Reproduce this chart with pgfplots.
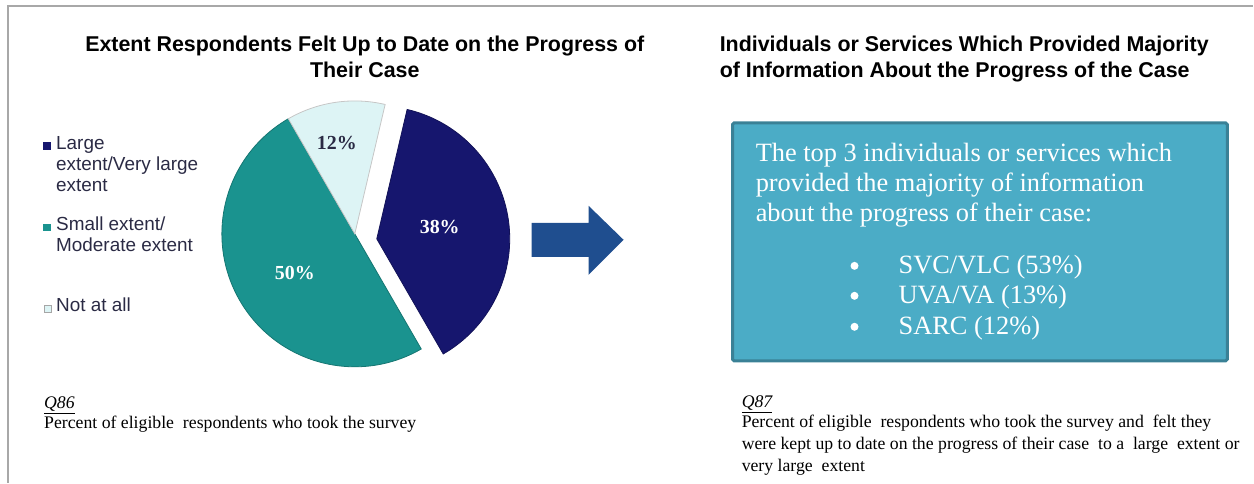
\documentclass[border=0pt]{standalone}
\usepackage{pgfplots}
\usepackage{pgfplotstable}
\pgfplotsset{compat=1.18}
\usepackage{fontspec}
\setmainfont{Liberation Serif}
\newfontfamily\arial{Liberation Sans}

\definecolor{pienavy}{HTML}{16166E}
\definecolor{pieteal}{HTML}{1A938F}
\definecolor{pielight}{HTML}{DDF4F5}
\definecolor{legtext}{HTML}{2A2A44}
\definecolor{arrowblue}{HTML}{1F4E8F}
\definecolor{boxfill}{HTML}{4BACC6}
\definecolor{boxedge}{HTML}{3A8196}
\definecolor{frame}{HTML}{A8A8A8}

% share of respondents (%), clockwise from the first slice
\pgfplotstableread{
slice value
large 38
small 50
none  12
}\piedata

\pgfplotstablegetelem{0}{value}\of\piedata\edef\vA{\pgfplotsretval}
\pgfplotstablegetelem{1}{value}\of\piedata\edef\vB{\pgfplotsretval}
\pgfplotstablegetelem{2}{value}\of\piedata\edef\vC{\pgfplotsretval}
\pgfmathsetmacro{\aA}{76.8}
\pgfmathsetmacro{\aB}{\aA-3.6*\vA}
\pgfmathsetmacro{\aC}{\aB-3.6*\vB}
\pgfmathsetmacro{\aD}{\aC-3.6*\vC}

\tikzset{
  ttl/.style={font=\arial\bfseries\fontsize{21.5}{26}\selectfont, inner sep=0pt},
  leg/.style={anchor=base west, font=\arial\fontsize{19}{21}\selectfont, text=legtext, inner sep=0pt},
  box/.style={anchor=base west, font=\fontsize{26.5}{30}\selectfont, text=white, inner sep=0pt},
  foot/.style={anchor=base west, font=\fontsize{17.8}{22}\selectfont, inner sep=0pt},
  pct/.style={font=\bfseries\fontsize{20}{22}\selectfont, inner sep=0pt},
}

\begin{document}
\begin{tikzpicture}
\begin{axis}[
  width=1254bp, height=483bp, scale only axis,
  xmin=0, xmax=1254, ymin=0, ymax=483, y dir=reverse,
  hide axis, clip=false]

\path (axis cs:0,0) rectangle (axis cs:1254,483);
% frame
\draw[frame, line width=1.5bp] (axis cs:8,483) -- (axis cs:8,6) -- (axis cs:1254,6);

% titles
\node[ttl, anchor=base] at (axis cs:365,52) {Extent Respondents Felt Up to Date on the Progress of};
\node[ttl, anchor=base] at (axis cs:365,78) {Their Case};
\node[ttl, anchor=base west] at (axis cs:720,52) {Individuals or Services Which Provided Majority};
\node[ttl, anchor=base west] at (axis cs:720,78) {of Information About the Progress of the Case};

% pie
\fill[pieteal, draw=pieteal!80!black, line width=0.8bp] (axis cs:355,234) -- ++(\aB:133bp)
  arc[start angle=\aB, end angle=\aC, radius=133bp] -- cycle;
\fill[pielight, draw=gray!45, line width=0.8bp] (axis cs:355,234) -- ++(\aC:133bp)
  arc[start angle=\aC, end angle=\aD, radius=133bp] -- cycle;
\fill[pienavy, draw=pienavy!80!black, line width=0.8bp] (axis cs:377,239) -- ++(\aA:133bp)
  arc[start angle=\aA, end angle=\aB, radius=133bp] -- cycle;

\node[pct, text=legtext] at (axis cs:337,143) {\vC\%};
\node[pct, text=white] at (axis cs:440,227) {\vA\%};
\node[pct, text=white] at (axis cs:295,273) {\vB\%};

% legend
\fill[pienavy] (axis cs:43,142) rectangle (axis cs:51,150);
\fill[pieteal] (axis cs:43,224) rectangle (axis cs:51,231);
\fill[pielight, draw=gray!70, line width=0.6bp] (axis cs:44,305) rectangle (axis cs:51,312);
\node[leg] at (axis cs:56,150) {Large};
\node[leg] at (axis cs:56,171) {extent/Very large};
\node[leg] at (axis cs:56,192) {extent};
\node[leg] at (axis cs:56,231) {Small extent/};
\node[leg] at (axis cs:56,252) {Moderate extent};
\node[leg] at (axis cs:56,312) {Not at all};

% arrow
\fill[arrowblue] (axis cs:532,223) -- (axis cs:589,223) -- (axis cs:589,206) -- (axis cs:624,240)
  -- (axis cs:589,275) -- (axis cs:589,257) -- (axis cs:532,257) -- cycle;

% text box
\filldraw[fill=boxfill, draw=boxedge, line width=3bp, rounded corners=1.5bp]
  (axis cs:733,123) rectangle (axis cs:1228,361);
\node[box] at (axis cs:756,162) {The top 3 individuals or services which};
\node[box] at (axis cs:756,192) {provided the majority of information};
\node[box] at (axis cs:756,222) {about the progress of their case:};
\fill[white] (axis cs:855,266) circle[radius=4bp];
\fill[white] (axis cs:855,296) circle[radius=4bp];
\fill[white] (axis cs:855,327) circle[radius=4bp];
\node[box] at (axis cs:899,274) {SVC/VLC (53\%)};
\node[box] at (axis cs:899,304) {UVA/VA (13\%)};
\node[box] at (axis cs:899,335) {SARC (12\%)};

% footnotes
\node[foot, font=\itshape\fontsize{17.8}{22}\selectfont] at (axis cs:44,409) {\underline{Q86}};
\node[foot] at (axis cs:44,429) {Percent of eligible\ \ respondents who took the survey};
\node[foot, font=\itshape\fontsize{17.8}{22}\selectfont] at (axis cs:742,408) {\underline{Q87}};
\node[foot] at (axis cs:742,428) {Percent of eligible\ \ respondents who took the survey and\ \ felt they};
\node[foot] at (axis cs:742,450) {were kept up to date on the progress of their case\ \ to a\ \ large\ \ extent or};
\node[foot] at (axis cs:742,472) {very large\ \ extent};
\end{axis}
\end{tikzpicture}
\end{document}
